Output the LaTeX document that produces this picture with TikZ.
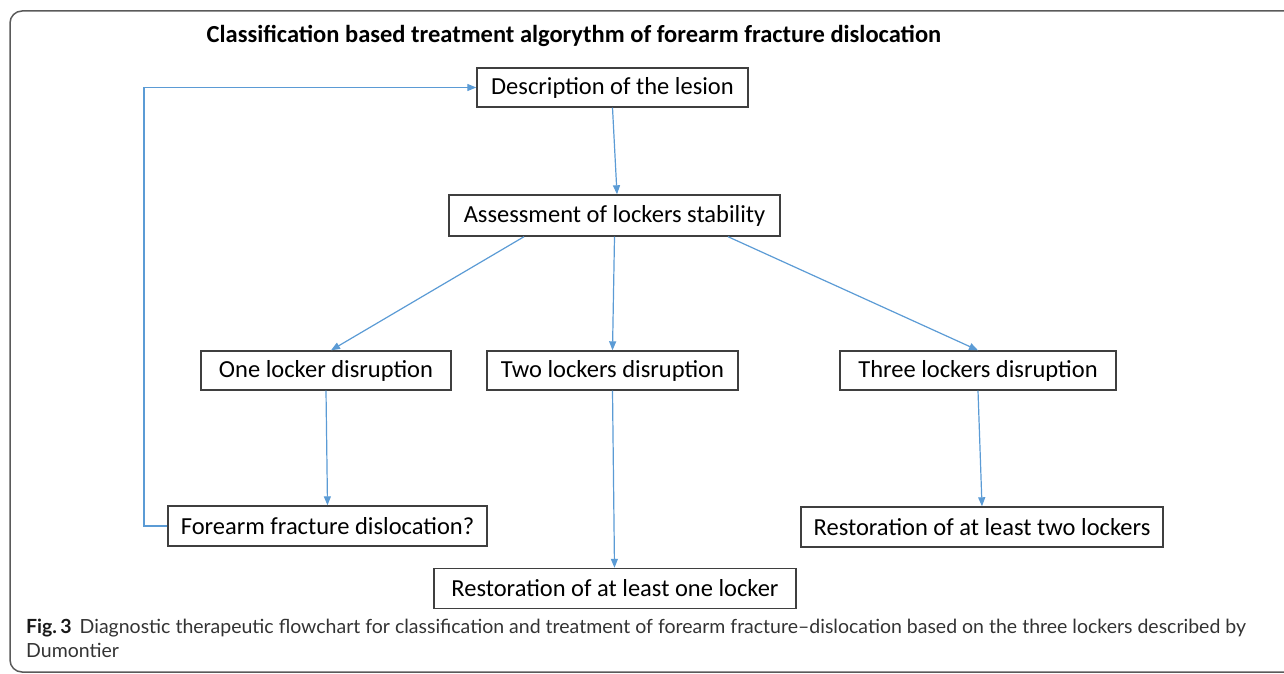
\documentclass[tikz,border=0pt]{standalone}
\usepackage{fontspec}
\setmainfont{Carlito}
\newfontfamily\capfont{Lato}
\usetikzlibrary{arrows.meta,calc}
\definecolor{arrowblue}{HTML}{5B9BD5}
\definecolor{boxgray}{HTML}{3F3F3F}
\definecolor{framegray}{HTML}{5A5A5A}
\tikzset{
  stepbox/.style={draw=boxgray, line width=1.4pt, fill=white, inner sep=0pt,
    minimum height=39pt, font=\fontsize{24.5}{28}\selectfont, text=black},
  arr/.style={draw=arrowblue, line width=1.2pt, -{Triangle[length=9pt,width=7pt]}},
  captext/.style={anchor=base west, font=\capfont\fontsize{19.5}{24}\selectfont, text=black!80, inner sep=0pt}
}
\begin{document}
\begin{tikzpicture}[x=1pt,y=-1pt]
\useasboundingbox (0,0) rectangle (1284,674);
\draw[framegray, line width=1.5pt, rounded corners=12pt] (1300,11) -- (10,11) -- (10,672) -- (1300,672);

\node[font=\bfseries\fontsize{24.5}{28}\selectfont] (title) at (574,36) {Classification based treatment algorythm of forearm fracture dislocation};

\node[stepbox, minimum width=271pt] (desc) at (612.5,87.5) {Description of the lesion};
\node[stepbox, minimum width=331pt, minimum height=41pt] (ass) at (614.5,215.5) {Assessment of lockers stability};
\node[stepbox, minimum width=250pt] (one) at (326,370.5) {One locker disruption};
\node[stepbox, minimum width=251pt] (two) at (612.5,370.5) {Two lockers disruption};
\node[stepbox, minimum width=276pt] (three) at (978,370.5) {Three lockers disruption};
\node[stepbox, minimum width=319pt, minimum height=40pt] (fore) at (327.5,526) {Forearm fracture dislocation?};
\node[stepbox, minimum width=362pt, minimum height=40pt] (rone) at (615,588.5) {Restoration of at least one locker};
\node[stepbox, minimum width=362pt, minimum height=40pt] (rtwo) at (982,527) {Restoration of at least two lockers};

\coordinate (c1) at (144,526);
\coordinate (c2) at (144,87.5);

\draw[arr] (desc.south) -- ([xshift=2.5pt]ass.north);
\draw[arr] ([xshift=-90.5pt]ass.south) -- ([xshift=5pt]one.north);
\draw[arr] (ass.south) -- (two.north);
\draw[arr] ([xshift=113.5pt]ass.south) -- (three.north);
\draw[arr] (one.south) -- (fore.north);
\draw[arr] (two.south) -- ([xshift=-0.5pt]rone.north);
\draw[arr] (three.south) -- (rtwo.north);
\draw[arr] (fore.west) -- (c1) -- (c2) -- (desc.west);

\node[captext] (cap1) at (26,633)
  {{\bfseries\color{black!90}Fig.\,3}\hspace{8pt}Diagnostic therapeutic flowchart for classification and treatment of forearm fracture–dislocation based on the three lockers described by};
\node[captext] (cap2) at (26,657) {Dumontier};
\end{tikzpicture}
\end{document}
